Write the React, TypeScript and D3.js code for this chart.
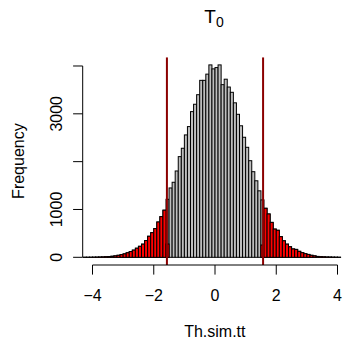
import { useRef, useEffect } from "react";
import { select, scaleLinear, max } from "d3";

const WIDTH = 345;
const HEIGHT = 339;
// plot region of the R device, in pixels
const plot = { left: 82.7, right: 347.3, top: 57.2, bottom: 265 };

const breakStart = -4.3;
const binWidth = 0.1;
// histogram counts, one per 0.1 bin starting at -4.3
const counts = [
  1, 1, 2, 3, 4, 6, 8, 12, 16, 22, 30, 42, 55, 72, 95, 120, 150, 190, 230, 275,
  350, 440, 515, 600, 738, 850, 985,
  1213, 1450, 1569, 1805, 2105, 2280, 2559, 2733, 3046, 3200, 3400, 3700, 3700,
  3830, 4023, 3940, 3967, 4023, 3610, 3724, 3560, 3450, 3230, 2990, 2750, 2510,
  2300, 2020, 1790, 1600, 1390, 1200,
  1025, 906, 730, 590, 565, 431, 345, 275, 220, 175, 165, 125, 97, 76, 60, 42,
  30, 18, 12, 9, 6, 5, 3, 2, 1, 0, 0,
];
const cutoff = 1.57;
// red part of the two bins the cutoff falls in
const partialBins = [-1.6, 1.5];
const partialRed = [278, 257];

const xTicks = [-4, -2, 0, 2, 4];
const yTicks = [0, 1000, 2000, 3000, 4000];
const yTickLabels = [0, 1000, 3000];

const FONT = "'Liberation Sans', Arial, Helvetica, sans-serif";

export default function App() {
  const svgRef = useRef<SVGSVGElement>(null);

  useEffect(() => {
    const svg = select(svgRef.current);
    svg.selectAll("*").remove();

    const bins = counts.map((n, i) => {
      const x0 = Math.round((breakStart + i * binWidth) * 10) / 10;
      const x1 = Math.round((x0 + binWidth) * 10) / 10;
      const p = partialBins.indexOf(x0);
      const red = x1 <= -cutoff || x0 >= cutoff ? n : p >= 0 ? partialRed[p] : 0;
      return { x0, x1, n, red };
    });

    const yMax = max(counts) as number;
    const x = scaleLinear().domain([-4.32, 4.32]).range([plot.left, plot.right]);
    const y = scaleLinear()
      .domain([-0.04 * yMax, 1.04 * yMax])
      .range([plot.bottom, plot.top]);

    svg.append("clipPath").attr("id", "plotclip")
      .append("rect")
      .attr("x", plot.left).attr("y", plot.top)
      .attr("width", plot.right - plot.left).attr("height", plot.bottom - plot.top);

    const chart = svg.append("g").attr("clip-path", "url(#plotclip)");

    // gray histogram
    chart.selectAll(".bar")
      .data(bins)
      .join("rect")
      .attr("class", "bar")
      .attr("x", (d) => x(d.x0))
      .attr("y", (d) => y(d.n))
      .attr("width", (d) => x(d.x1) - x(d.x0))
      .attr("height", (d) => y(0) - y(d.n))
      .attr("fill", "#bebebe")
      .attr("stroke", "#000")
      .attr("stroke-width", 1);

    // red tails
    chart.selectAll(".red")
      .data(bins.filter((d) => d.red > 0))
      .join("rect")
      .attr("class", "red")
      .attr("x", (d) => x(d.x0))
      .attr("y", (d) => y(d.red))
      .attr("width", (d) => x(d.x1) - x(d.x0))
      .attr("height", (d) => y(0) - y(d.red))
      .attr("fill", "#ff0000")
      .attr("stroke", "#000")
      .attr("stroke-width", 1);

    // cutoff lines
    chart.selectAll(".cut")
      .data([-cutoff, cutoff])
      .join("line")
      .attr("x1", (d) => x(d)).attr("x2", (d) => x(d))
      .attr("y1", plot.top).attr("y2", plot.bottom)
      .attr("stroke", "#8b0000")
      .attr("stroke-width", 2);

    const axisColor = "#000";
    // x-axis
    const xa = svg.append("g");
    xa.append("line")
      .attr("x1", x(xTicks[0])).attr("x2", x(xTicks[xTicks.length - 1]))
      .attr("y1", plot.bottom).attr("y2", plot.bottom)
      .attr("stroke", axisColor);
    xa.selectAll(".xt").data(xTicks).join("line")
      .attr("x1", (d) => x(d)).attr("x2", (d) => x(d))
      .attr("y1", plot.bottom).attr("y2", plot.bottom + 9.6)
      .attr("stroke", axisColor);
    xa.selectAll(".xl").data(xTicks).join("text")
      .attr("x", (d) => x(d)).attr("y", 300.5)
      .attr("text-anchor", "middle")
      .style("font-family", FONT).style("font-size", "16px")
      .text((d) => (d < 0 ? "\u2212" + Math.abs(d) : String(d)));

    // y-axis
    const ya = svg.append("g");
    ya.append("line")
      .attr("x1", plot.left).attr("x2", plot.left)
      .attr("y1", y(yTicks[0])).attr("y2", y(yTicks[yTicks.length - 1]))
      .attr("stroke", axisColor);
    ya.selectAll(".yt").data(yTicks).join("line")
      .attr("x1", plot.left - 9.6).attr("x2", plot.left)
      .attr("y1", (d) => y(d)).attr("y2", (d) => y(d))
      .attr("stroke", axisColor);
    ya.selectAll(".yl").data(yTickLabels).join("text")
      .attr("transform", (d) => `translate(${plot.left - 20.5}, ${y(d)}) rotate(-90)`)
      .attr("text-anchor", "middle")
      .style("font-family", FONT).style("font-size", "16px")
      .text((d) => String(d));

    // title
    const title = svg.append("text")
      .attr("x", 214).attr("y", 23.3)
      .attr("text-anchor", "middle")
      .style("font-family", FONT).style("font-size", "19px");
    title.append("tspan").text("T");
    title.append("tspan").attr("dy", 3.5).style("font-size", "14px").text("0");

    // axis labels
    svg.append("text")
      .attr("x", (plot.left + plot.right) / 2 - 0.2).attr("y", 337)
      .attr("text-anchor", "middle")
      .style("font-family", FONT).style("font-size", "16px")
      .text("Th.sim.tt");
    svg.append("text")
      .attr("transform", `translate(23.5, ${(plot.top + plot.bottom) / 2}) rotate(-90)`)
      .attr("text-anchor", "middle")
      .style("font-family", FONT).style("font-size", "16px")
      .text("Frequency");
  }, []);

  return (
    <svg
      ref={svgRef}
      width={WIDTH}
      height={HEIGHT}
      style={{ position: "absolute", left: 0, top: 0, background: "#fff" }}
    />
  );
}
